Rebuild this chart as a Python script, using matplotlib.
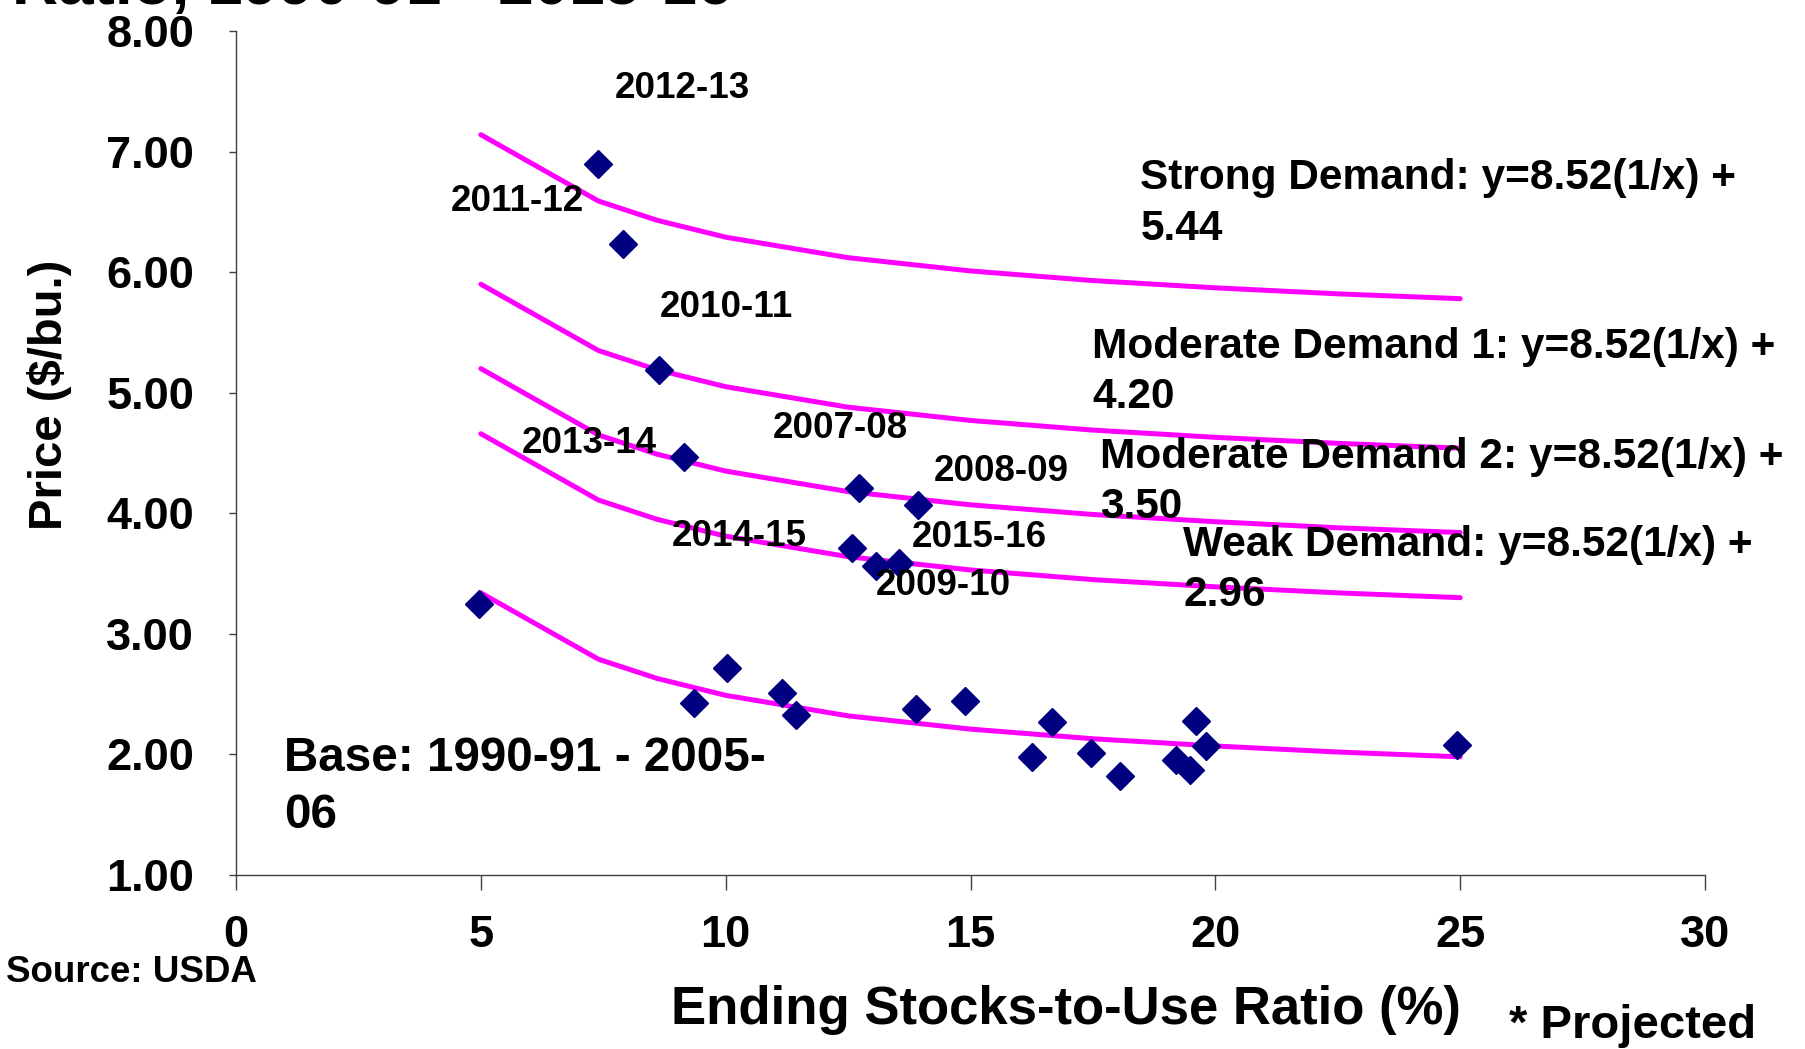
import matplotlib
matplotlib.use("Agg")
import matplotlib.pyplot as plt

plt.rcParams['font.family'] = ['Liberation Sans', 'DejaVu Sans']
plt.rcParams['font.weight'] = 'bold'

# demand curves at these stocks-to-use ratios
curve_x = [5, 7.4, 8.6, 10, 12.5, 15, 17.5, 20, 22.5, 25]
strong = [7.14, 6.59, 6.43, 6.29, 6.12, 6.01, 5.93, 5.87, 5.82, 5.78]
moderate1 = [5.90, 5.35, 5.19, 5.05, 4.88, 4.77, 4.69, 4.63, 4.58, 4.54]
moderate2 = [5.20, 4.65, 4.49, 4.35, 4.18, 4.07, 3.99, 3.93, 3.88, 3.84]
weak = [4.66, 4.11, 3.95, 3.81, 3.64, 3.53, 3.45, 3.39, 3.34, 3.30]
base = [3.34, 2.79, 2.63, 2.49, 2.32, 2.21, 2.13, 2.07, 2.02, 1.98]

# base years 1990-91 to 2005-06
base_ratio = [4.96, 9.36, 10.02, 11.15, 11.44, 13.88, 14.89, 16.26,
              16.66, 17.46, 18.05, 19.20, 19.48, 19.60, 19.81, 24.94]
base_price = [3.25, 2.43, 2.72, 2.51, 2.33, 2.38, 2.44, 1.98,
              2.27, 2.01, 1.82, 1.95, 1.87, 2.28, 2.07, 2.08]

# recent years, labelled
years = ["2007-08", "2008-09", "2009-10", "2010-11", "2011-12",
         "2012-13", "2013-14", "2014-15", "2015-16"]
year_ratio = [12.73, 13.93, 13.08, 8.64, 7.91, 7.39, 9.15, 12.59, 13.55]
year_price = [4.21, 4.07, 3.56, 5.19, 6.23, 6.90, 4.47, 3.71, 3.59]
# label spots (left edge, vertical centre) in data units
label_x = [10.96, 14.24, 13.06, 8.66, 4.38, 7.74, 5.84, 8.89, 13.79]
label_y = [4.70, 4.35, 3.40, 5.71, 6.59, 7.52, 4.58, 3.81, 3.80]

eq_text = ["Strong Demand: y=8.52(1/x) +\n5.44",
           "Moderate Demand 1: y=8.52(1/x) +\n4.20",
           "Moderate Demand 2: y=8.52(1/x) +\n3.50",
           "Weak Demand: y=8.52(1/x) +\n2.96",
           "Base: 1990-91 - 2005-\n06"]
eq_x = [18.47, 17.48, 17.65, 19.34, 0.99]
# baseline of the last line
eq_y = [6.27, 4.87, 3.96, 3.23, 1.39]

W, H = 1806, 1049
fig = plt.figure(figsize=(W / 100, H / 100), dpi=100)
ax = fig.add_axes([236 / W, 1 - 875 / H, (1705 - 236) / W, (875 - 31) / H])

magenta = '#FF00FF'
navy = '#000080'
for ys in [strong, moderate1, moderate2, weak, base]:
    ax.plot(curve_x, ys, color=magenta, linewidth=3.6, solid_capstyle='round',
            solid_joinstyle='round', zorder=2)

ax.plot(base_ratio, base_price, linestyle='none', marker='D', markersize=14,
        color=navy, zorder=3)
ax.plot(year_ratio, year_price, linestyle='none', marker='D', markersize=14,
        color=navy, zorder=3)

for name, lx, ly in zip(years, label_x, label_y):
    ax.text(lx, ly, name, fontsize=26.5, fontweight='bold', ha='left',
            va='center', zorder=4)

for t, tx, ty in zip(eq_text, eq_x, eq_y):
    size = 34.3 if t.startswith("Base") else 30.5
    ax.text(tx, ty, t, fontsize=size, fontweight='bold', ha='left',
            va='baseline', linespacing=1.33, zorder=4)

ax.set_xlim(0, 30)
ax.set_ylim(1, 8)
ax.set_xticks([0, 5, 10, 15, 20, 25, 30])
ax.set_yticks([1, 2, 3, 4, 5, 6, 7, 8])
ax.set_yticklabels([f"{v:.2f}" for v in range(1, 9)])
for s in ['top', 'right']:
    ax.spines[s].set_visible(False)
for s in ['left', 'bottom']:
    ax.spines[s].set_color('#404040')
    ax.spines[s].set_linewidth(1.0)
ax.tick_params(axis='x', direction='out', length=11, width=1, color='#404040',
               pad=18, labelsize=32.5)
ax.tick_params(axis='y', direction='out', length=5, width=1, color='#404040',
               pad=25, labelsize=32.5)
for lab in ax.get_xticklabels() + ax.get_yticklabels():
    lab.set_fontweight('bold')

fig.text(49.5 / W, 1 - 395 / H, "Price ($/bu.)", rotation=90, fontsize=34,
         fontweight='bold', ha='center', va='center')
fig.text(1066 / W, 1 - 1010 / H, "Ending Stocks-to-Use Ratio (%)", fontsize=38,
         fontweight='bold', ha='center', va='center')
fig.text(1509 / W, 1 - 1026 / H, "* Projected", fontsize=34,
         fontweight='bold', ha='left', va='center')
fig.text(6 / W, 1 - 973 / H, "Source: USDA", fontsize=26.5,
         fontweight='bold', ha='left', va='center')
# title sits mostly above the visible area
fig.text(12 / W, 1 - 4 / H, "Ratio, 1990-91 - 2015-16", fontsize=46,
         fontweight='bold', ha='left', va='baseline')

fig.savefig("out.png", dpi=100, facecolor='white')
